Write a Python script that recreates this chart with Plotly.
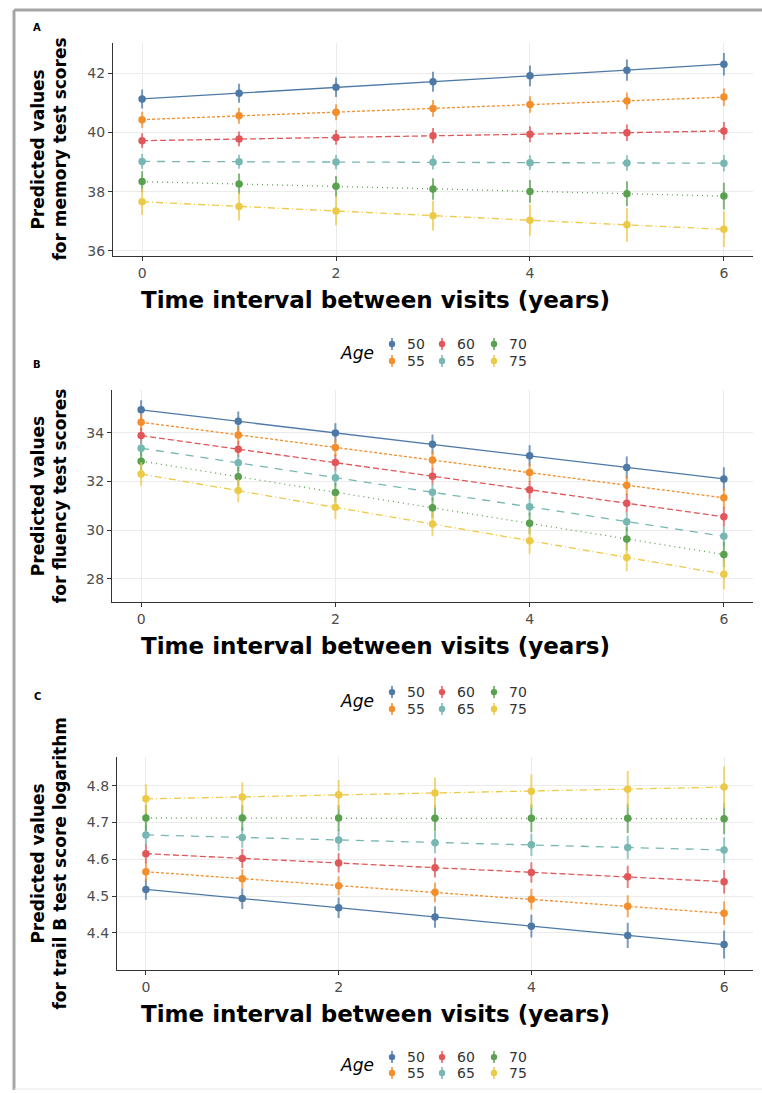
import plotly.graph_objects as go

W, H = 762, 1093

time = [0, 1, 2, 3, 4, 5, 6]
ages = [50, 55, 60, 65, 70, 75]
colors = ["#4e79a7", "#f28e2b", "#e15759", "#76b7b2", "#59a14f", "#edc948"]
err_colors = ["rgba(78,121,167,0.75)", "rgba(242,142,43,0.75)", "rgba(225,87,89,0.75)",
              "rgba(118,183,178,0.75)", "rgba(89,161,79,0.75)", "rgba(237,201,72,0.75)"]
dashes = ["solid", "3px,2px", "6px,3px", "8px,7px", "1px,4px", "7px,3px,1px,3px"]

memory = {
    50: [41.13, 41.32, 41.52, 41.71, 41.91, 42.10, 42.30],
    55: [40.43, 40.56, 40.68, 40.81, 40.94, 41.06, 41.19],
    60: [39.72, 39.78, 39.83, 39.89, 39.94, 39.99, 40.05],
    65: [39.02, 39.01, 39.00, 38.99, 38.98, 38.97, 38.96],
    70: [38.34, 38.26, 38.18, 38.09, 38.01, 37.93, 37.85],
    75: [37.66, 37.50, 37.35, 37.19, 37.04, 36.88, 36.73],
}
memory_err = {
    50: [0.32, 0.32, 0.33, 0.34, 0.35, 0.36, 0.38],
    55: [0.27, 0.27, 0.27, 0.28, 0.28, 0.29, 0.30],
    60: [0.25, 0.25, 0.25, 0.26, 0.27, 0.28, 0.30],
    65: [0.25, 0.24, 0.24, 0.24, 0.25, 0.26, 0.28],
    70: [0.35, 0.35, 0.35, 0.36, 0.38, 0.42, 0.45],
    75: [0.45, 0.47, 0.48, 0.50, 0.53, 0.57, 0.60],
}
fluency = {
    50: [34.95, 34.48, 34.00, 33.53, 33.06, 32.58, 32.11],
    55: [34.44, 33.92, 33.40, 32.89, 32.37, 31.85, 31.33],
    60: [33.89, 33.33, 32.78, 32.22, 31.66, 31.11, 30.55],
    65: [33.37, 32.77, 32.16, 31.56, 30.96, 30.35, 29.75],
    70: [32.84, 32.20, 31.55, 30.92, 30.28, 29.64, 29.00],
    75: [32.31, 31.63, 30.94, 30.25, 29.56, 28.88, 28.19],
}
fluency_err = {
    50: [0.40, 0.40, 0.40, 0.41, 0.43, 0.45, 0.48],
    55: [0.35, 0.35, 0.35, 0.36, 0.38, 0.40, 0.42],
    60: [0.33, 0.33, 0.33, 0.34, 0.36, 0.38, 0.40],
    65: [0.33, 0.33, 0.33, 0.34, 0.36, 0.38, 0.40],
    70: [0.40, 0.40, 0.40, 0.42, 0.44, 0.48, 0.52],
    75: [0.48, 0.48, 0.48, 0.50, 0.53, 0.57, 0.62],
}
trail = {
    50: [4.518, 4.493, 4.468, 4.443, 4.418, 4.393, 4.368],
    55: [4.566, 4.547, 4.528, 4.510, 4.491, 4.472, 4.453],
    60: [4.615, 4.602, 4.590, 4.577, 4.564, 4.552, 4.539],
    65: [4.666, 4.659, 4.652, 4.645, 4.639, 4.632, 4.625],
    70: [4.712, 4.712, 4.712, 4.711, 4.711, 4.711, 4.710],
    75: [4.764, 4.769, 4.775, 4.780, 4.785, 4.790, 4.796],
}
trail_err = {
    50: [0.028, 0.028, 0.028, 0.029, 0.031, 0.034, 0.038],
    55: [0.026, 0.026, 0.026, 0.027, 0.028, 0.030, 0.032],
    60: [0.026, 0.026, 0.026, 0.027, 0.028, 0.030, 0.032],
    65: [0.028, 0.028, 0.028, 0.029, 0.030, 0.032, 0.035],
    70: [0.035, 0.035, 0.035, 0.036, 0.038, 0.040, 0.042],
    75: [0.040, 0.040, 0.040, 0.042, 0.046, 0.050, 0.056],
}

panel_labels = ["A", "B", "C"]
ytitle_lines = [("Predicted values", "for memory test scores"),
                ("Predicted values", "for fluency test scores"),
                ("Predicted values", "for trail B test score logarithm")]
xtitle = "Time interval between visits (years)"
legend_title = "Age"
x_ticks = [0, 2, 4, 6]
y_ticks = [[36, 38, 40, 42], [28, 30, 32, 34], [4.4, 4.5, 4.6, 4.7, 4.8]]
y_ranges = [[35.82, 43.02], [27.03, 35.77], [4.298, 4.878]]

# layout geometry in pixels: (left, right, top, bottom)
boxes = [(113, 753, 43, 257), (112, 753, 391, 604), (117, 753, 759, 973)]
label_y = [28, 366, 698]
legend_rows = [(345, 362), (694, 711), (1060, 1076)]

def fx(px):
    return px / W

def fy(py):
    return 1 - py / H

FONT = "DejaVu Sans"
datasets = [(memory, memory_err), (fluency, fluency_err), (trail, trail_err)]

fig = go.Figure()
annotations = []
shapes = []

def ann(text, x, y, size, xanchor="center", color="#000000", **kw):
    font = dict(family=FONT, size=size, color=color)
    font.update(kw.pop("font_extra", {}))
    d = dict(text=text, x=fx(x), y=fy(y), xref="paper", yref="paper",
             xanchor=xanchor, yanchor="middle", showarrow=False, font=font)
    d.update(kw)
    annotations.append(d)

for p, (vals, errs) in enumerate(datasets):
    xa = "x" if p == 0 else f"x{p+1}"
    ya = "y" if p == 0 else f"y{p+1}"
    for i, age in enumerate(ages):
        fig.add_trace(go.Scatter(
            x=time, y=vals[age], xaxis=xa, yaxis=ya,
            mode="lines+markers", showlegend=False, name=str(age),
            line=dict(color=colors[i], width=1.3, dash=dashes[i]),
            marker=dict(color=colors[i], size=7.5),
            error_y=dict(type="data", array=errs[age], visible=True,
                         color=err_colors[i], thickness=2, width=0),
        ))
    l, r, t, b = boxes[p]
    axkey = "xaxis" if p == 0 else f"xaxis{p+1}"
    aykey = "yaxis" if p == 0 else f"yaxis{p+1}"
    fig.layout[axkey] = dict(
        domain=[fx(l), fx(r)], anchor=ya, range=[-0.3, 6.3],
        tickvals=x_ticks, ticks="outside", ticklen=4, tickwidth=1.2, tickcolor="#333333",
        showline=True, linecolor="#333333", linewidth=1.3,
        showgrid=True, gridcolor="#ebebeb", gridwidth=1, zeroline=False,
        tickfont=dict(family=FONT, size=14, color="#4d4d4d"),
    )
    fig.layout[aykey] = dict(
        domain=[fy(b), fy(t)], anchor=xa, range=y_ranges[p],
        tickvals=y_ticks[p], ticks="outside", ticklen=4, tickwidth=1.2, tickcolor="#333333",
        showline=True, linecolor="#333333", linewidth=1.3,
        showgrid=True, gridcolor="#ebebeb", gridwidth=1, zeroline=False,
        tickfont=dict(family=FONT, size=14, color="#4d4d4d"),
    )
    # panel label
    ann(panel_labels[p], 37, label_y[p], 10, font_extra=dict(weight="bold"))
    # y titles (two lines)
    yc = (t + b) / 2
    for line, xpos in zip(ytitle_lines[p], [38, 60]):
        ann(line, xpos, yc, 17, textangle=-90, font_extra=dict(weight="bold"))
    # x title
    ann(xtitle, 375, b + 44, 23, font_extra=dict(weight="bold"))
    # legend
    row_y = legend_rows[p]
    ann(legend_title, 357, (row_y[0] + row_y[1]) / 2, 17, font_extra=dict(style="italic"))
    col_x = [392, 442, 494]
    for i, age in enumerate(ages):
        cx = col_x[i // 2]
        cy = row_y[i % 2]
        shapes.append(dict(type="line", xref="paper", yref="paper",
                           x0=fx(cx), x1=fx(cx), y0=fy(cy - 6), y1=fy(cy + 6),
                           line=dict(color=err_colors[i], width=2)))
        shapes.append(dict(type="circle", xref="paper", yref="paper",
                           x0=fx(cx - 3.2), x1=fx(cx + 3.2), y0=fy(cy - 3.2), y1=fy(cy + 3.2),
                           fillcolor=colors[i], line=dict(width=0)))
        ann(str(age), cx + 13, cy, 14, xanchor="left", color="#333333")

# outer frame
shapes.append(dict(type="line", xref="paper", yref="paper", x0=fx(14), x1=1, y0=fy(10), y1=fy(10),
                   line=dict(color="#a6a6a6", width=3)))
shapes.append(dict(type="line", xref="paper", yref="paper", x0=fx(14), x1=fx(14), y0=fy(10), y1=0,
                   line=dict(color="#a6a6a6", width=3)))
shapes.append(dict(type="line", xref="paper", yref="paper", x0=fx(14), x1=1, y0=fy(1092), y1=fy(1092),
                   line=dict(color="#e6e6e6", width=1)))

fig.update_layout(
    width=W, height=H, margin=dict(l=0, r=0, t=0, b=0),
    paper_bgcolor="white", plot_bgcolor="white",
    annotations=annotations, shapes=shapes, showlegend=False,
)

fig.write_html("out.html")
